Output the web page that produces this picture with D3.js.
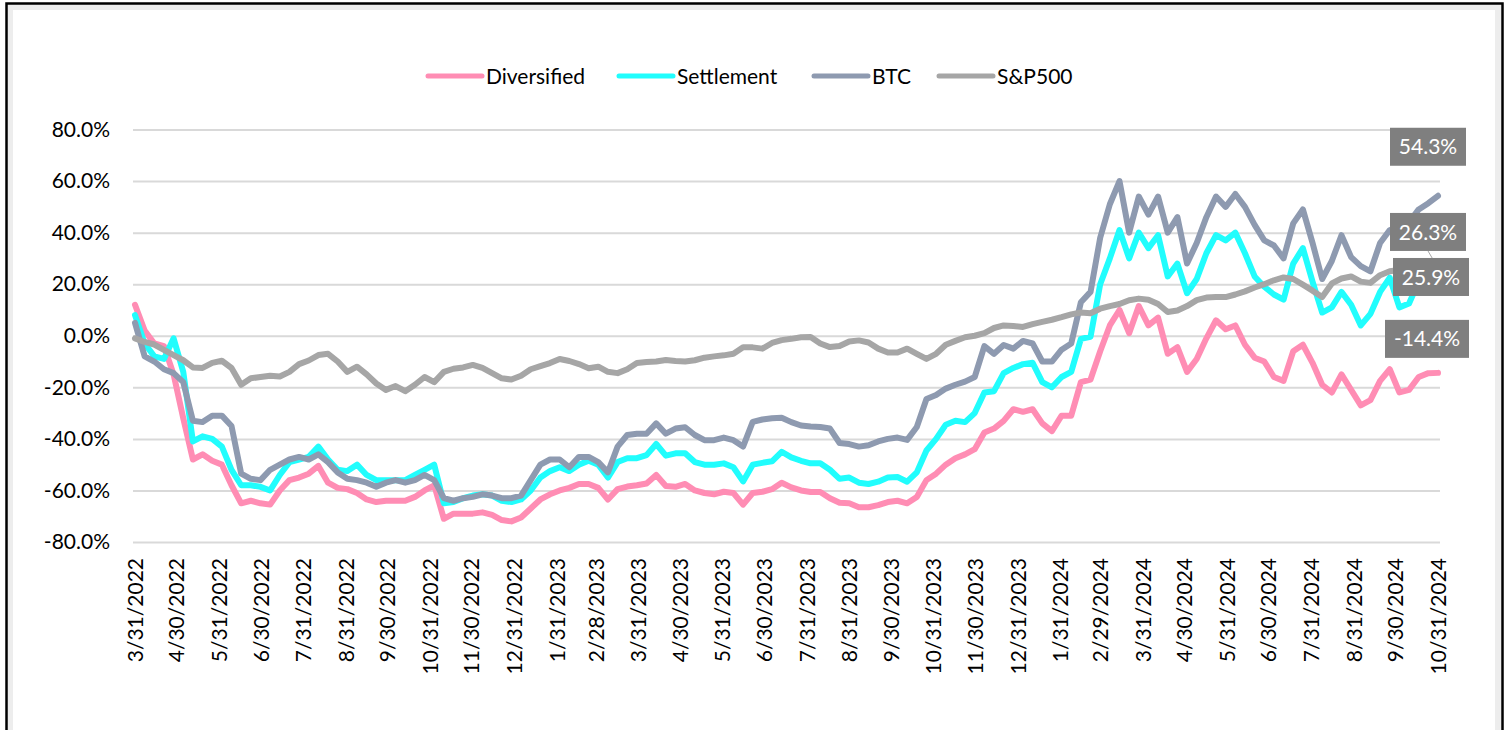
<!DOCTYPE html>
<html>
<head>
<meta charset="utf-8">
<script src="https://cdn.jsdelivr.net/npm/d3@7"></script>
<style>
  html, body { margin: 0; padding: 0; background: #fff; }
  svg { display: block; font-family: Lato, "Open Sans", sans-serif; }
</style>
</head>
<body>
<div class="chart"></div>
<script>
// weekly observations, 3/31/2022 .. 10/31/2024
const dates = [
  "2022-03-31","2022-04-07","2022-04-14","2022-04-21","2022-04-28","2022-05-05","2022-05-12","2022-05-19","2022-05-26","2022-06-02",
  "2022-06-09","2022-06-16","2022-06-23","2022-06-30","2022-07-07","2022-07-14","2022-07-21","2022-07-28","2022-08-04","2022-08-11",
  "2022-08-18","2022-08-25","2022-09-01","2022-09-08","2022-09-15","2022-09-22","2022-09-29","2022-10-06","2022-10-13","2022-10-20",
  "2022-10-27","2022-11-03","2022-11-10","2022-11-17","2022-11-24","2022-12-01","2022-12-08","2022-12-15","2022-12-22","2022-12-29",
  "2023-01-05","2023-01-12","2023-01-19","2023-01-26","2023-02-02","2023-02-09","2023-02-16","2023-02-23","2023-03-02","2023-03-09",
  "2023-03-16","2023-03-23","2023-03-30","2023-04-06","2023-04-13","2023-04-20","2023-04-27","2023-05-04","2023-05-11","2023-05-18",
  "2023-05-25","2023-06-01","2023-06-08","2023-06-15","2023-06-22","2023-06-29","2023-07-06","2023-07-13","2023-07-20","2023-07-27",
  "2023-08-03","2023-08-10","2023-08-17","2023-08-24","2023-08-31","2023-09-07","2023-09-14","2023-09-21","2023-09-28","2023-10-05",
  "2023-10-12","2023-10-19","2023-10-26","2023-11-02","2023-11-09","2023-11-16","2023-11-23","2023-11-30","2023-12-07","2023-12-14",
  "2023-12-21","2023-12-28","2024-01-04","2024-01-11","2024-01-18","2024-01-25","2024-02-01","2024-02-08","2024-02-15","2024-02-22",
  "2024-02-29","2024-03-07","2024-03-14","2024-03-21","2024-03-28","2024-04-04","2024-04-11","2024-04-18","2024-04-25","2024-05-02",
  "2024-05-09","2024-05-16","2024-05-23","2024-05-30","2024-06-06","2024-06-13","2024-06-20","2024-06-27","2024-07-04","2024-07-11",
  "2024-07-18","2024-07-25","2024-08-01","2024-08-08","2024-08-15","2024-08-22","2024-08-29","2024-09-05","2024-09-12","2024-09-19",
  "2024-09-26","2024-10-03","2024-10-10","2024-10-17","2024-10-24","2024-10-31"
];

// cumulative return, %
const diversified = [
  12, 2, -3, -4, -15, -32, -48, -46, -48.5, -50,
  -58, -65, -64, -65, -65.5, -60, -56, -55, -53.5, -50.5,
  -57, -59, -59.5, -61, -63.5, -64.5, -64, -64, -64, -62.5,
  -60, -58, -71, -69, -69, -69, -68.5, -69.5, -71.5, -72,
  -70.5, -67, -63.5, -61.5, -60, -59, -57.5, -57.5, -59, -63.5,
  -59.5, -58.5, -58, -57.3, -54, -58.3, -58.6, -57.5, -60, -61,
  -61.5, -60.5, -61, -65.5, -61, -60.5, -59.5, -57, -58.8, -60,
  -60.6, -60.6, -63, -64.8, -65, -66.5, -66.5, -65.7, -64.5, -64,
  -65, -62.5, -56, -53.5, -50, -47.5, -46, -44, -37.5, -36,
  -33, -28.5, -29.5, -28.5, -34, -37, -31, -31, -18, -17,
  -6, 4, 10, 1, 11.5, 4, 7, -7, -4.4, -14,
  -9, -1, 6, 2.5, 4, -3.5, -8.5, -10, -16, -17.5,
  -6, -3.5, -10.5, -19, -22, -15, -21, -27, -25, -17.5,
  -13, -22, -21, -16, -14.5, -14.4
];

const settlement = [
  8, -3, -8, -9, -1, -14, -41, -39, -40, -43,
  -52, -58, -58, -58.6, -60, -54, -49, -48, -47, -43,
  -48, -52, -52.5, -50, -54, -56, -56, -56, -56, -54,
  -52, -50, -65, -64.5, -63, -62, -61.5, -62, -64, -64.5,
  -63.5, -60, -55, -52.5, -51, -52.5, -50, -48.5, -50, -55,
  -49, -47.5, -47.5, -46.3, -42, -46.5, -45.6, -45.6, -49, -50,
  -50, -49.5, -51, -56.5, -50, -49.3, -48.7, -45, -47.2, -48.5,
  -49.5, -49.5, -52, -55.5, -55, -57, -57.5, -56.6, -55, -54.8,
  -56.6, -53, -44.5, -40, -34.5, -33, -33.5, -30, -22, -21.5,
  -14.5, -12.5, -11, -10.5, -18, -20, -16, -14, -1.2, -0.4,
  20, 30, 41, 30, 40, 34, 39, 23, 28, 16.5,
  22, 32, 39, 37, 40, 32, 23, 19, 16, 14,
  28, 34, 21, 9, 11, 17, 12, 4, 8.5, 17,
  22.5, 11, 12.5, 21, 28, 26.3
];

const btc = [
  5, -8, -10, -13, -14.5, -18, -33, -33.5, -31, -31,
  -35, -53.5, -55.5, -56, -52, -50, -48, -47, -48, -46,
  -49, -53, -55.5, -56, -57, -58.6, -57, -56, -57, -56,
  -54, -56, -63, -64, -63, -62.5, -61.5, -62, -63, -63,
  -62, -56, -50, -48, -48, -51, -47, -47, -49, -53,
  -43, -38.5, -38, -38, -34, -38, -36, -35.5, -38.5, -40.5,
  -40.5, -39.5, -40.5, -43, -33.4, -32.5, -32, -31.8, -33.5, -34.8,
  -35.2, -35.4, -36, -41.6, -42, -43, -42.5, -41, -40, -39.5,
  -40.4, -35.4, -24.5, -23, -20.5, -19, -17.8, -16, -4, -7,
  -3.6, -5, -2, -3, -10, -10, -5.4, -3, 13, 17,
  38, 51, 60, 40, 54, 47, 54, 40, 46, 28,
  36, 46, 54, 50, 55, 50, 43, 37, 35, 30,
  43.6, 49, 36, 22, 29, 39, 30.5, 27, 25, 36,
  41, 42, 44, 49, 51.4, 54.3
];

const sp500 = [
  -1, -2.4, -3.4, -5.5, -7.5, -9.5, -12.3, -12.5, -10.5, -9.7,
  -12.5, -19, -16.5, -16, -15.5, -15.8, -14, -11, -9.6, -7.5,
  -7, -10, -14, -12, -15, -18.5, -21, -19.5, -21.5, -19,
  -16, -18, -14, -12.8, -12.3, -11.3, -12.5, -14.5, -16.5, -17,
  -15.5, -13, -11.8, -10.6, -9, -9.8, -11, -12.6, -12, -14,
  -14.5, -13, -10.6, -10.2, -10, -9.4, -9.8, -10, -9.5, -8.5,
  -8, -7.6, -7, -4.5, -4.5, -5, -2.8, -1.7, -1.2, -0.6,
  -0.5, -3, -4.4, -4, -2.2, -1.8, -2.6, -5, -6.5, -6.5,
  -5, -7, -9, -7, -3.5, -2, -0.6, 0, 1, 3,
  4, 3.8, 3.4, 4.5, 5.4, 6.2, 7.2, 8.3, 9, 8.7,
  10.5, 11.5, 12.3, 13.8, 14.4, 14, 12.3, 9.2, 9.8, 11.5,
  13.8, 14.8, 15, 15, 16, 17.2, 18.7, 20, 21.5, 22.6,
  22, 19.8, 17.5, 15, 20.3, 22.2, 23, 21, 20.5, 23.5,
  25, 25.5, 25.2, 25.8, 25.5, 25.9
];

const seriesNames = ["Diversified", "Settlement", "BTC", "S&P500"];
const seriesColors = ["#ff8db4", "#21fdfd", "#8e9ab0", "#a6a6a6"];

const yTicks = [80, 60, 40, 20, 0, -20, -40, -60, -80];
const xTickLabels = [
  "3/31/2022","4/30/2022","5/31/2022","6/30/2022","7/31/2022","8/31/2022","9/30/2022","10/31/2022",
  "11/30/2022","12/31/2022","1/31/2023","2/28/2023","3/31/2023","4/30/2023","5/31/2023","6/30/2023",
  "7/31/2023","8/31/2023","9/30/2023","10/31/2023","11/30/2023","12/31/2023","1/31/2024","2/29/2024",
  "3/31/2024","4/30/2024","5/31/2024","6/30/2024","7/31/2024","8/31/2024","9/30/2024","10/31/2024"
];

const W = 1509, H = 730;
const parseISO = d3.timeParse("%Y-%m-%d");
const parseUS = d3.timeParse("%m/%d/%Y");
const xDates = dates.map(parseISO);
const tickDates = xTickLabels.map(parseUS);

const svg = d3.select('.chart')
  .append('svg')
  .attr('width', W)
  .attr('height', H);

// outer frame with soft inner shadow
svg.append('rect')
  .attr('x', 10).attr('y', 7).attr('width', 1488).attr('height', 800)
  .attr('fill', 'none').attr('stroke', '#ededed').attr('stroke-width', 6);
svg.append('rect')
  .attr('x', 6.5).attr('y', 3.5).attr('width', 1496).attr('height', 800)
  .attr('fill', 'none').attr('stroke', '#000').attr('stroke-width', 2.5);

const xScale = d3.scaleTime()
  .domain([tickDates[0], tickDates[tickDates.length - 1]])
  .range([135, 1438]);

const yScale = d3.scaleLinear()
  .domain([-80, 80])
  .range([542, 129.5]);

// gridlines + y labels
const yAxis = d3.axisLeft(yScale)
  .tickValues(yTicks)
  .tickSize(-(1440 - 133))
  .tickPadding(23)
  .tickFormat(d => d.toFixed(1) + '%');

const gy = svg.append('g')
  .attr('class', 'axis y-axis')
  .attr('transform', 'translate(133,0)')
  .call(yAxis);
gy.select('.domain').remove();
gy.selectAll('line').attr('stroke', '#d9d9d9').attr('stroke-width', 2);
gy.selectAll('text')
  .attr('fill', '#000')
  .style('font-size', '21px')
  .style('font-family', 'Lato, sans-serif');

// x labels, rotated
const xAxis = d3.axisBottom(xScale)
  .tickValues(tickDates)
  .tickSize(0)
  .tickFormat((d, i) => xTickLabels[i]);

const gx = svg.append('g')
  .attr('class', 'axis x-axis')
  .attr('transform', 'translate(0,558)')
  .call(xAxis);
gx.select('.domain').remove();
gx.selectAll('text')
  .attr('fill', '#000')
  .attr('y', 0)
  .attr('x', 0)
  .attr('dy', '0.36em')
  .attr('transform', 'rotate(-90)')
  .attr('text-anchor', 'end')
  .style('font-size', '21px')
  .style('font-family', 'Lato, sans-serif');

// series lines
const allSeries = [diversified, settlement, btc, sp500];
const line = d3.line()
  .x((d, i) => xScale(xDates[i]))
  .y(d => yScale(d));

svg.selectAll('.series')
  .data(allSeries)
  .enter()
  .append('path')
  .attr('class', 'series')
  .attr('d', d => line(d))
  .attr('fill', 'none')
  .attr('stroke', (d, i) => seriesColors[i])
  .attr('stroke-width', 6)
  .attr('stroke-linejoin', 'round')
  .attr('stroke-linecap', 'round');

// legend
const legendX = [428, 619, 814, 939];
const legend = svg.append('g').attr('class', 'legend');
seriesNames.forEach((name, i) => {
  legend.append('line')
    .attr('x1', legendX[i]).attr('x2', legendX[i] + 54)
    .attr('y1', 76).attr('y2', 76)
    .attr('stroke', seriesColors[i])
    .attr('stroke-width', 5)
    .attr('stroke-linecap', 'round');
  legend.append('text')
    .attr('x', legendX[i] + 58)
    .attr('y', 76)
    .attr('dy', '0.36em')
    .style('font-size', '21px')
    .text(name);
});

// end-of-series data labels
const lastIdx = dates.length - 1;
const endX = xScale(xDates[lastIdx]);
const labelOffsets = [-34, -36, -49, 8];   // vertical shift of each box from its point
const labelWidths = [84, 76, 76, 76];
const labelRight = [1469, 1466, 1466, 1469];

allSeries.forEach((s, i) => {
  const v = s[lastIdx];
  const cy = yScale(v) + labelOffsets[i];
  const w = labelWidths[i];
  const g = svg.append('g');
  if (i === 1) {
    g.append('line')
      .attr('x1', 1428).attr('y1', cy + 19)
      .attr('x2', endX).attr('y2', yScale(v))
      .attr('stroke', '#a6a6a6').attr('stroke-width', 1);
  }
  g.append('rect')
    .attr('x', labelRight[i] - w).attr('y', cy - 19)
    .attr('width', w).attr('height', 38)
    .attr('fill', '#7f7f7f');
  g.append('text')
    .attr('x', labelRight[i] - w / 2).attr('y', cy)
    .attr('dy', '0.36em')
    .attr('text-anchor', 'middle')
    .attr('fill', '#fff')
    .style('font-size', '21px')
    .text(v.toFixed(1) + '%');
});
</script>
</body>
</html>
